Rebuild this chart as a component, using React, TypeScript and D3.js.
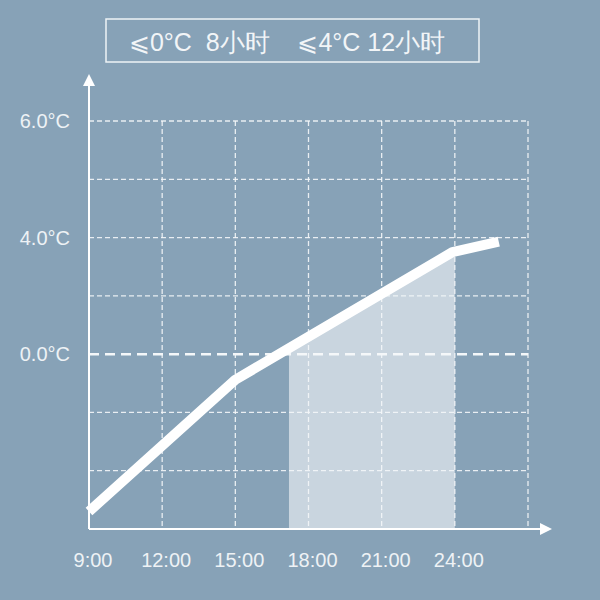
import React from "react";
import * as d3 from "d3";

const hours = [9, 12, 15, 18, 21, 24, 27];
const hourLabels = ["9:00", "12:00", "15:00", "18:00", "21:00", "24:00"];
const gridLevels = [1, 2, 3, 4, 5, 6, 7];
const yTickLevels = [3, 5, 7];
const yTickLabels = ["0.0°C", "4.0°C", "6.0°C"];
const zeroLevel = 3;
const lineHours = [9, 15, 23.9, 25.8];
const lineLevels = [0.3, 2.56, 4.75, 4.93];
const shadeStart = 17.2;
const shadeEnd = 24;
const legendText = "⩽0°C  8小时    ⩽4°C 12小时";

const W = 600, H = 600;
const BG = "#87a2b7";
const FONT = "'Liberation Sans', Arial, sans-serif";

export default function App() {
  const x = d3.scaleLinear().domain([9, 27]).range([89, 528]);
  const y = d3.scaleLinear().domain([0, 7]).range([529, 121]);
  const pts = lineHours.map((h, i) => [h, lineLevels[i]] as [number, number]);
  const line = d3.line<[number, number]>().x(d => x(d[0])).y(d => y(d[1]));
  const area = d3.area<[number, number]>().x(d => x(d[0])).y0(y(0)).y1(d => y(d[1]));

  return (
    <svg width={W} height={H} style={{ position: "absolute", left: 0, top: 0, display: "block" }}>
      <rect width={W} height={H} fill={BG} />
      <defs>
        <clipPath id="shadeClip">
          <rect x={x(shadeStart)} y={0} width={x(shadeEnd) - x(shadeStart)} height={y(0)} />
        </clipPath>
      </defs>
      {/* legend */}
      <rect x={106} y={19} width={373} height={43} fill="none" stroke="#eef3f6" strokeWidth={1.5} />
      <text x={287} y={51} textAnchor="middle" fontFamily={FONT} fontSize={25} fill="#f2f5f7" style={{ whiteSpace: "pre" }}>
        {legendText}
      </text>
      {/* shaded area */}
      <path d={area(pts) || ""} fill="#c9d5df" clipPath="url(#shadeClip)" />
      {/* grid */}
      {gridLevels.filter(l => l !== zeroLevel).map(l => (
        <line key={"h" + l} x1={x(9)} x2={x(27)} y1={y(l)} y2={y(l)} stroke="#f4f7f9" strokeWidth={1.3} strokeDasharray="5,3" opacity={0.9} />
      ))}
      {hours.slice(1).map(h => (
        <line key={"v" + h} x1={x(h)} x2={x(h)} y1={y(7)} y2={y(0)} stroke="#f4f7f9" strokeWidth={1.3} strokeDasharray="5,3" opacity={0.9} />
      ))}
      <line x1={x(9)} x2={x(27)} y1={y(zeroLevel)} y2={y(zeroLevel)} stroke="#f4f7f9" strokeWidth={2.5} strokeDasharray="10,6" />
      {/* axes */}
      <line x1={x(9)} x2={x(9)} y1={y(0)} y2={84} stroke="#fff" strokeWidth={2} />
      <path d={`M${x(9) - 6},86 L${x(9)},74 L${x(9) + 6},86 Z`} fill="#fff" />
      <line x1={x(9)} x2={541} y1={y(0)} y2={y(0)} stroke="#fff" strokeWidth={2} />
      <path d={`M540,${y(0) - 6} L552,${y(0)} L540,${y(0) + 6} Z`} fill="#fff" />
      {/* data line */}
      <path d={line(pts) || ""} fill="none" stroke="#fff" strokeWidth={10} strokeLinejoin="round" />
      {/* y labels */}
      {yTickLevels.map((l, i) => (
        <text key={"yl" + l} x={70} y={y(l)} dy="0.35em" textAnchor="end" fontFamily={FONT} fontSize={20} fill="#eef2f5">
          {yTickLabels[i]}
        </text>
      ))}
      {/* x labels */}
      {hourLabels.map((t, i) => (
        <text key={"xl" + t} x={x(hours[i]) + 4} y={567} textAnchor="middle" fontFamily={FONT} fontSize={20} fill="#eef2f5">
          {t}
        </text>
      ))}
    </svg>
  );
}
